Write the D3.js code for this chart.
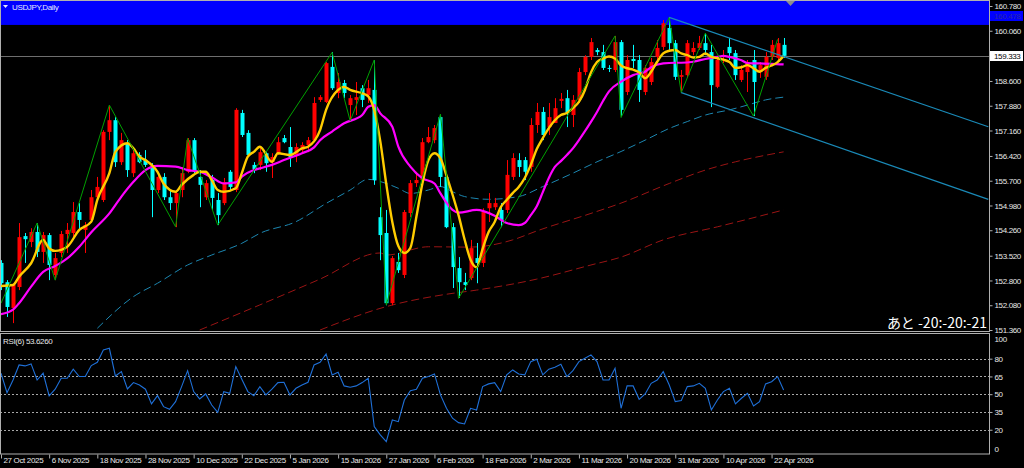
<!DOCTYPE html>
<html><head><meta charset="utf-8">
<script src="https://cdn.jsdelivr.net/npm/d3@7"></script>
<style>
html,body{margin:0;padding:0;background:#000;overflow:hidden}
svg{display:block}
text{font-family:"Liberation Sans",Arial,sans-serif;font-size:8px;letter-spacing:-0.35px}
</style></head><body>
<svg id="c" width="1024" height="468"></svg>
<script>
// ---------- DATA ----------
const symbolTitle = "USDJPY,Daily";
const xLabels = ["27 Oct 2025","6 Nov 2025","18 Nov 2025","28 Nov 2025","10 Dec 2025","22 Dec 2025","5 Jan 2026","15 Jan 2026","27 Jan 2026","6 Feb 2026","18 Feb 2026","2 Mar 2026","11 Mar 2026","20 Mar 2026","31 Mar 2026","10 Apr 2026","22 Apr 2026"];
const xLabelBars = [0,8,16,24,32,40,48,56,64,72,80,88,96,104,112,120,128];
const priceTicks = [160.780,160.060,158.600,157.880,157.160,156.420,155.700,154.980,154.260,153.520,152.800,152.080,151.360];
const bidPrice = 159.333;
const markPrice = 160.478;
const bandLowPrice = 160.23;
const rsiLevels = [80,65,50,35,20];
const rsiTicks = [100,80,65,50,35,20,0];
const rsiTitle = "RSI(6) 53.6260";
const timerText = "あと -20:-20:-21";

const open = [153.31,152.75,152.00,152.61,154.09,153.92,154.21,153.63,154.12,152.96,
153.60,154.15,154.18,154.79,154.27,154.56,155.22,155.14,157.12,157.46,
156.24,156.79,155.92,156.45,156.30,156.07,155.43,155.81,155.22,155.05,
155.43,155.96,156.88,155.81,155.22,155.72,155.14,155.05,155.96,155.43,
157.67,157.09,156.16,156.16,156.50,156.24,156.50,156.94,156.68,156.45,
156.59,156.74,156.88,158.05,157.99,159.01,158.25,158.54,157.90,158.05,
158.39,158.19,158.34,154.64,154.18,152.14,153.34,152.96,154.76,155.63,
155.72,156.82,156.88,157.55,155.81,154.35,153.16,152.75,152.87,153.45,
153.31,154.90,154.93,154.85,154.85,155.81,156.30,156.30,156.10,157.32,
157.70,157.26,157.38,158.02,158.10,157.61,158.05,158.86,159.30,159.50,
159.44,158.98,158.92,159.73,158.28,159.24,159.21,158.28,158.57,159.30,
159.59,160.14,159.70,158.72,158.77,159.44,159.56,159.70,159.44,158.43,
159.30,159.59,159.41,158.63,158.86,159.21,158.86,158.72,159.30,159.27,
159.65];
const high = [153.39,152.81,152.72,154.47,154.18,154.32,154.47,154.21,154.18,153.60,
154.24,154.47,155.08,155.05,154.50,155.43,155.81,157.17,157.90,157.55,
157.09,156.88,156.59,156.53,156.59,156.21,155.92,155.92,155.43,155.43,
156.10,156.94,156.94,156.01,155.72,155.87,155.34,155.78,156.01,157.81,
157.76,157.17,156.24,156.65,156.53,156.50,156.97,157.03,157.26,156.79,
156.82,156.97,158.13,158.19,159.15,159.44,158.83,158.63,158.19,158.57,
158.48,158.63,159.21,154.93,154.85,153.51,153.60,154.85,155.72,155.96,
156.94,157.26,157.32,157.64,155.87,154.47,153.48,153.02,153.98,153.89,
154.90,155.34,155.20,155.05,156.30,156.50,156.50,156.39,157.52,157.96,
157.84,157.96,158.10,158.25,158.34,158.19,158.98,159.35,159.85,159.56,
159.65,159.06,159.91,159.79,159.35,159.65,159.35,159.06,159.27,159.79,
160.37,160.46,159.79,158.92,159.79,159.73,159.91,159.99,159.65,159.30,
159.50,159.85,159.50,159.06,159.21,159.50,159.15,159.44,159.79,159.85,
159.85];
const low = [152.52,151.74,151.56,152.52,153.31,153.77,153.48,153.31,152.81,152.81,
153.48,153.60,154.06,154.27,153.60,154.47,155.14,155.08,156.88,156.10,
156.16,155.81,155.81,156.21,156.10,154.64,155.34,155.14,154.85,154.35,
155.22,155.92,155.92,154.93,155.14,154.85,154.41,154.99,155.43,155.37,
156.97,156.39,155.92,156.01,155.96,155.78,156.45,156.79,156.10,156.24,
156.53,156.53,156.82,157.99,157.96,158.34,158.10,158.10,157.44,157.61,
157.84,157.96,155.58,153.39,152.08,152.08,153.02,152.87,154.64,155.52,
155.63,156.79,156.79,155.52,154.32,152.58,152.29,152.52,152.81,152.72,
153.19,154.50,154.85,154.35,154.76,155.72,155.81,155.72,155.96,157.09,
156.88,157.03,157.38,157.81,157.26,157.26,157.96,158.77,159.21,159.35,
158.92,158.86,158.86,157.55,158.19,158.98,157.99,158.19,158.48,159.21,
159.50,159.50,158.63,158.28,158.69,159.35,159.50,159.35,157.84,158.39,
159.12,159.21,158.63,158.57,158.28,157.58,158.69,158.63,159.21,159.15,
159.27];
const close = [152.72,152.03,152.67,154.06,154.00,154.21,153.63,154.12,153.25,153.45,
154.15,154.27,154.79,154.56,154.41,155.22,155.52,157.12,157.46,156.24,
156.88,156.01,156.50,156.24,156.16,155.43,155.81,155.22,155.05,155.34,
155.92,156.88,155.96,155.58,155.63,155.20,154.70,155.66,155.52,157.76,
157.03,156.45,156.04,156.53,156.21,156.39,156.82,156.82,156.39,156.68,
156.74,156.88,157.96,158.13,159.12,158.39,158.57,158.25,158.10,158.13,
158.05,158.39,155.72,154.12,152.14,153.45,153.10,154.79,155.63,155.72,
156.82,156.97,157.23,155.81,154.35,153.19,152.75,152.67,153.74,153.31,
154.79,155.05,155.05,154.56,155.87,156.36,156.10,155.96,157.32,157.70,
157.03,157.55,157.81,158.08,157.67,158.05,158.86,159.30,159.73,159.44,
158.98,158.95,159.73,157.76,159.21,159.18,158.34,158.98,159.15,159.56,
160.28,159.70,158.72,158.77,159.70,159.56,159.70,159.50,158.48,159.21,
159.35,159.41,158.77,158.92,159.15,158.57,159.06,159.30,159.65,159.70,
159.33];

const rsi = [67.7,51.3,62.0,74.7,73.9,75.6,62.0,67.7,48.5,54.2,
63.5,63.5,71.1,64.9,64.9,74.2,77.0,87.4,88.8,65.4,
69.1,54.4,59.8,57.8,54.2,41.8,48.8,39.5,37.3,43.7,
56.4,69.9,52.2,46.0,50.2,40.9,34.7,52.2,50.8,73.3,
62.6,52.2,48.8,56.4,49.4,54.2,59.8,60.1,49.4,55.0,
57.8,60.1,74.7,77.0,84.0,66.3,68.5,57.0,55.9,57.0,
59.8,63.5,22.6,15.6,9.9,28.2,26.8,45.1,53.0,54.2,
63.5,64.9,67.1,49.4,38.1,29.7,26.0,24.9,38.1,36.7,
56.4,58.7,59.8,52.2,66.3,70.5,67.1,66.3,77.5,79.5,
66.3,71.1,72.8,75.3,64.9,69.9,77.5,80.4,83.2,77.5,
62.0,62.0,71.9,38.1,57.0,57.0,45.7,50.2,59.2,62.0,
69.1,57.8,43.7,44.6,56.4,57.0,59.2,55.0,36.7,45.1,
52.2,55.0,41.8,46.6,50.8,40.1,43.7,58.7,60.6,64.9,
53.6];

// fast MA (yellow) [bar, price]
const maFast = [[0,152.64],[2,152.67],[3,152.91],[5,153.30],[7,153.98],[8,153.73],[9,153.66],[11,153.78],[13,154.27],[15,154.51],[16,155.14],[18,155.92],[19,156.54],[21,156.79],[22,156.64],[23,156.40],[24,156.30],[26,155.96],[27,155.62],[29,155.38],[30,155.58],[32,155.87],[33,155.96],[34,155.96],[35,155.72],[36,155.43],[37,155.38],[39,155.48],[40,155.92],[41,156.40],[42,156.54],[43,156.69],[45,156.25],[46,156.50],[48,156.45],[50,156.64],[51,156.69],[53,157.17],[54,157.76],[56,158.34],[57,158.43],[58,158.34],[60,158.24],[61,158.15],[62,157.75],[63,156.85],[64,155.60],[65,154.50],[66,153.80],[67,153.60],[68,153.75],[69,154.65],[70,155.62],[71,156.30],[72,156.50],[73,156.35],[74,155.85],[75,155.30],[76,154.70],[77,154.00],[78,153.40],[79,153.18],[80,153.72],[81,154.21],[82,154.50],[83,154.93],[84,155.14],[85,155.34],[86,155.52],[87,155.78],[88,156.16],[89,156.62],[90,156.94],[91,157.23],[92,157.46],[93,157.61],[94,157.67],[95,157.81],[96,157.99],[97,158.34],[98,158.85],[99,159.15],[100,159.25],[101,159.31],[102,159.25],[103,159.05],[104,158.97],[105,158.93],[106,158.85],[107,158.68],[108,158.87],[109,159.16],[110,159.40],[111,159.48],[112,159.50],[113,159.40],[114,159.35],[115,159.28],[116,159.30],[117,159.40],[118,159.30],[119,159.26],[120,159.22],[121,159.15],[122,158.98],[123,159.00],[124,159.06],[125,158.97],[126,158.87],[127,158.98],[128,159.05],[129,159.15],[130,159.33]];
// middle MA (magenta)
const maMid = [[0,151.82],[2,151.95],[3,152.14],[5,152.62],[7,153.05],[9,153.22],[11,153.44],[13,153.78],[15,154.20],[18,154.75],[20,155.24],[22,155.67],[24,156.01],[26,156.13],[29,156.11],[31,156.01],[33,155.96],[35,155.80],[37,155.62],[39,155.65],[40,155.82],[42,156.01],[43,156.06],[45,156.16],[47,156.30],[50,156.50],[52,156.67],[53,156.88],[55,157.13],[57,157.37],[60,157.61],[61,157.85],[62,157.90],[63,157.66],[65,157.27],[66,156.69],[68,156.11],[70,155.77],[72,155.62],[73,155.33],[75,154.85],[76,154.77],[79,154.85],[82,154.68],[84,154.47],[86,154.41],[87,154.47],[88,154.70],[89,154.96],[90,155.37],[91,155.78],[92,156.10],[93,156.27],[94,156.45],[95,156.64],[96,156.88],[97,157.14],[98,157.41],[99,157.70],[100,158.02],[101,158.30],[103,158.58],[105,158.77],[107,158.87],[108,159.00],[110,159.11],[112,159.13],[113,159.13],[115,159.16],[117,159.24],[119,159.30],[120,159.33],[121,159.30],[123,159.20],[124,159.12],[126,159.11],[128,159.10],[130,159.08]];
// slow MA (teal dashed)
const maSlow = [[16,151.41],[22,152.33],[26,152.72],[31,153.25],[35,153.54],[40,153.88],[43,154.17],[49,154.51],[54,155.04],[58,155.43],[61,155.74],[64,155.62],[66,155.48],[68,155.33],[71,155.43],[73,155.53],[75,155.38],[77,155.24],[81,155.16],[86,155.24],[90,155.53],[95,155.92],[99,156.25],[103,156.55],[107,156.88],[111,157.22],[114,157.42],[117,157.61],[121,157.76],[124,157.90],[127,158.05],[130,158.13]];
// long MAs (dark red dashed)
const maLong1 = [[33,151.36],[43,152.09],[53,152.84],[63,153.60],[64,153.54],[71,153.78],[78,153.77],[85,153.98],[89,154.24],[98,154.75],[103,155.05],[111,155.62],[117,156.01],[122,156.25],[130,156.54]];
const maLong2 = [[53,151.36],[64,152.04],[74,152.40],[79,152.52],[89,152.84],[98,153.25],[103,153.48],[110,153.98],[119,154.36],[130,154.85]];
// zigzag
const zigzag = [[0,152.14],[6,154.47],[9,152.81],[18,157.90],[29,154.36],[31,156.93],[36,154.41],[55,159.43],[58,157.44],[62,159.21],[64,152.09],[73,157.64],[76,152.28],[102,159.91],[103,157.54],[111,160.45],[113,158.26],[117,159.99],[125,157.58],[129,159.81]];
// channel (two anchor points each, drawn as rays)
const channelUpper = [[111,160.45],[129,159.37]];
const channelLower = [[113,158.26],[125,157.53]];

// ---------- DRAW ----------
const W=1024,H=468, AX=989, MB=331, RT=334, RB=454;
const TXT = "#e8e8e8";
const svg = d3.select("#c");
const x = d3.scaleLinear().domain([0,164]).range([1,988.3]);
const yP = d3.scaleLinear().domain([151.36,160.78]).range([330,6]);
const yR = d3.scaleLinear().domain([0,100]).range([453.4,335]);

svg.append("rect").attr("width",W).attr("height",H).attr("fill","#000");
const defs = svg.append("defs");
defs.append("clipPath").attr("id","cm").append("rect").attr("x",1).attr("y",1).attr("width",AX-1).attr("height",MB-1);
defs.append("clipPath").attr("id","cr").append("rect").attr("x",1).attr("y",RT+1).attr("width",AX-1).attr("height",RB-RT-1);

const gm = svg.append("g").attr("clip-path","url(#cm)");
gm.append("rect").attr("x",0).attr("y",0).attr("width",AX).attr("height",yP(bandLowPrice)).attr("fill","#0000ff");
gm.append("line").attr("x1",0).attr("x2",AX).attr("y1",Math.round(yP(bidPrice))+0.5).attr("y2",Math.round(yP(bidPrice))+0.5)
  .attr("stroke","#6e6e6e").attr("stroke-width",1);

const lineP = d3.line().x(d=>x(d[0])).y(d=>yP(d[1])).curve(d3.curveMonotoneX);
const dashed = (data,color)=>gm.append("path").datum(data).attr("d",lineP).attr("fill","none")
  .attr("stroke",color).attr("stroke-width",1).attr("stroke-dasharray","8,4");
dashed(maLong2,"#9a1414");
dashed(maLong1,"#9a1414");
dashed(maSlow,"#1c86b0");

// candles
const bars = d3.range(open.length);
const col = i => close[i] >= open[i] ? "#ff0000" : "#00ffff";
gm.append("g").selectAll("line").data(bars).join("line")
  .attr("x1",i=>Math.round(x(i))+0.5).attr("x2",i=>Math.round(x(i))+0.5)
  .attr("y1",i=>yP(high[i])).attr("y2",i=>yP(low[i]))
  .attr("stroke",col).attr("stroke-width",1);
gm.append("g").selectAll("rect").data(bars).join("rect")
  .attr("x",i=>Math.round(x(i))-1.5).attr("width",4)
  .attr("y",i=>yP(Math.max(open[i],close[i])))
  .attr("height",i=>Math.max(1,Math.abs(yP(open[i])-yP(close[i]))))
  .attr("fill",col);

gm.append("path").datum(maMid).attr("d",lineP).attr("fill","none").attr("stroke","#ff00ff").attr("stroke-width",2.2);
gm.append("path").datum(maFast).attr("d",lineP).attr("fill","none").attr("stroke","#ffcc00").attr("stroke-width",2.4);

gm.append("path").datum(zigzag).attr("d",d3.line().x(d=>x(d[0])).y(d=>yP(d[1])))
  .attr("fill","none").attr("stroke","#00a000").attr("stroke-width",1);

const ray = ab => { const s=(ab[1][1]-ab[0][1])/(ab[1][0]-ab[0][0]); const e=x.domain()[1]; return [ab[0],[e, ab[0][1]+s*(e-ab[0][0])]]; };
[channelUpper,channelLower].forEach(c=>{
  gm.append("path").datum(ray(c)).attr("d",d3.line().x(d=>x(d[0])).y(d=>yP(d[1])))
    .attr("fill","none").attr("stroke","#1a8ab8").attr("stroke-width",1.2);
});

// title
svg.append("path").attr("d","M3,5 L8,5 L5.5,8 Z").attr("fill","#e8e8ff");
svg.append("text").attr("x",12).attr("y",10).style("fill","#e8e8ff").text(symbolTitle);
svg.append("path").attr("d","M786,1 L795,1 L790.5,6 Z").attr("fill","#8c8c8c");

svg.append("text").attr("x",987).attr("y",328).attr("text-anchor","end")
  .style("font-family","'Noto Sans CJK JP',sans-serif").style("font-size","14px").style("letter-spacing","0px")
  .style("fill","#ffffff").text(timerText);

// ---- RSI panel ----
const gr = svg.append("g").attr("clip-path","url(#cr)");
rsiLevels.forEach(v=>{
  gr.append("line").attr("x1",0).attr("x2",AX).attr("y1",Math.round(yR(v))+0.5).attr("y2",Math.round(yR(v))+0.5)
    .attr("stroke","#a8a8a8").attr("stroke-width",1).attr("stroke-dasharray","2,2");
});
gr.append("path").datum(rsi).attr("d",d3.line().x((d,i)=>x(i)).y(d=>yR(d)))
  .attr("fill","none").attr("stroke","#1f70d8").attr("stroke-width",1.1);
svg.append("text").attr("x",3).attr("y",344).style("fill",TXT).text(rsiTitle);

const bc = "#b0b0b0";
svg.append("rect").attr("x",0.5).attr("y",0.5).attr("width",AX).attr("height",MB).attr("fill","none").attr("stroke",bc);
svg.append("rect").attr("x",0.5).attr("y",RT-0.5).attr("width",AX).attr("height",RB-RT+0.5).attr("fill","none").attr("stroke",bc);

// price axis
const pa = svg.append("g").attr("transform",`translate(${AX+0.5},0)`)
  .call(d3.axisRight(yP).tickValues(priceTicks).tickFormat(d3.format(".3f")).tickSize(3).tickSizeOuter(0).tickPadding(2));
pa.select(".domain").remove();
pa.selectAll(".tick line").attr("stroke",bc);
pa.selectAll(".tick text").style("fill",TXT).style("font-family","'Liberation Sans',Arial,sans-serif").style("font-size","8px");

const lab = (p,bg,fg)=>{
  const yy=Math.round(yP(p));
  svg.append("rect").attr("x",AX+1).attr("y",yy-5).attr("width",33).attr("height",10).attr("fill",bg);
  svg.append("text").attr("x",AX+5).attr("y",yy+3).style("fill",fg).text(d3.format(".3f")(p));
};
lab(markPrice,"#0000ff","#2a2aa8");
lab(bidPrice,"#ffffff","#000000");

// RSI axis
const ra = svg.append("g").attr("transform",`translate(${AX+0.5},0)`)
  .call(d3.axisRight(yR).tickValues(rsiTicks).tickFormat(d3.format("d")).tickSize(3).tickSizeOuter(0).tickPadding(2));
ra.select(".domain").remove();
ra.selectAll(".tick line").attr("stroke",bc);
ra.selectAll(".tick text").style("fill",TXT).style("font-family","'Liberation Sans',Arial,sans-serif").style("font-size","8px")
  .attr("dy", d => d===100 ? "0.85em" : (d===0 ? "-0.3em" : "0.32em"));
ra.selectAll(".tick").filter(d=>d===100||d===0).select("line").remove();

// time axis
const xa = svg.append("g").attr("transform",`translate(0,${RB+0.5})`)
  .call(d3.axisBottom(x).tickValues(xLabelBars).tickFormat((d,i)=>xLabels[i]).tickSize(4).tickSizeOuter(0).tickPadding(0));
xa.select(".domain").remove();
xa.selectAll(".tick line").attr("stroke",bc);
xa.selectAll(".tick text").attr("text-anchor","start").attr("x",2).attr("y",2).attr("dy","0.75em")
  .style("fill",TXT).style("font-family","'Liberation Sans',Arial,sans-serif").style("font-size","8px");
</script>
</body></html>
